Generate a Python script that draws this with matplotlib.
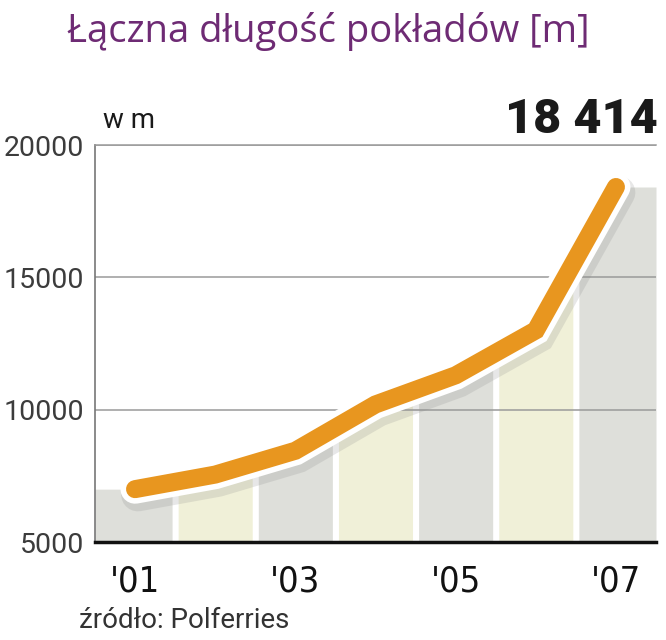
import numpy as np
import matplotlib.pyplot as plt
import matplotlib.patheffects as pe

years = [2001, 2002, 2003, 2004, 2005, 2006, 2007]
deck_length = [7000, 7550, 8450, 10200, 11300, 13000, 18414]
tick_years = ["'01", "'03", "'05", "'07"]
y_ticks = [5000, 10000, 15000, 20000]

band_colors = ['#dedfda', '#f0f0d8']
orange = '#e8961f'
purple = '#6e2b74'

fig = plt.figure(figsize=(6.66, 6.40), dpi=100)
ax = fig.add_axes([0.1426, 0.153, 0.8424, 0.6204])

x = np.arange(len(years))
gap = 0.038
# background bands following the line
for i in x:
    xs = np.linspace(i - 0.5 + (gap if i > 0 else 0), i + 0.5 - (gap if i < len(x) - 1 else 0), 30)
    ys = np.interp(xs, x, deck_length)
    ax.fill_between(xs, 5000, ys, color=band_colors[i % 2], lw=0, zorder=1)

for v in y_ticks[1:]:
    ax.axhline(v, color='#9a9a9a', lw=1.1, zorder=2)

ax.plot(x, deck_length, color=orange, lw=13, solid_capstyle='round', solid_joinstyle='miter', zorder=4,
        path_effects=[pe.SimpleLineShadow(offset=(2, -4), shadow_color='#888888', alpha=0.2, linewidth=24),
                      pe.Stroke(linewidth=21, foreground='white'), pe.Normal()])

ax.set_xlim(-0.5, 6.5)
ax.set_ylim(5000, 20000)
ax.set_yticks(y_ticks)
ax.set_yticklabels([str(v) for v in y_ticks], fontsize=20.5, color='#3c3c3c', family='Roboto', fontweight='normal')
ax.set_xticks([0, 2, 4, 6])
ax.set_xticklabels(tick_years, fontsize=26, color='#111111', family='DejaVu Sans', fontstretch='condensed')
ax.tick_params(axis='y', length=0, pad=8)
ax.tick_params(axis='x', length=0, pad=16)

ax.spines['right'].set_visible(False)
ax.spines['top'].set_color('#9a9a9a')
ax.spines['top'].set_linewidth(1.1)
ax.spines['left'].set_color('#777777')
ax.spines['left'].set_linewidth(1.2)
ax.spines['bottom'].set_color('#111111')
ax.spines['bottom'].set_linewidth(2.5)

fig.text(0.493, 0.951, 'Łączna długość pokładów [m]', ha='center', va='center', fontsize=27.5,
         color=purple, family='Open Sans')
fig.text(0.155, 0.812, 'w m', ha='left', va='center', fontsize=20, color='#1a1a1a', family='Roboto')
fig.text(0.987, 0.812, '18 414', ha='right', va='center', fontsize=35, fontweight='black',
         color='#1a1a1a', family='Roboto')
fig.text(0.118, 0.03, 'źródło: Polferries', ha='left', va='center', fontsize=20, color='#333333',
         family='Roboto', fontweight='normal')

plt.savefig('out.png', dpi=100)
